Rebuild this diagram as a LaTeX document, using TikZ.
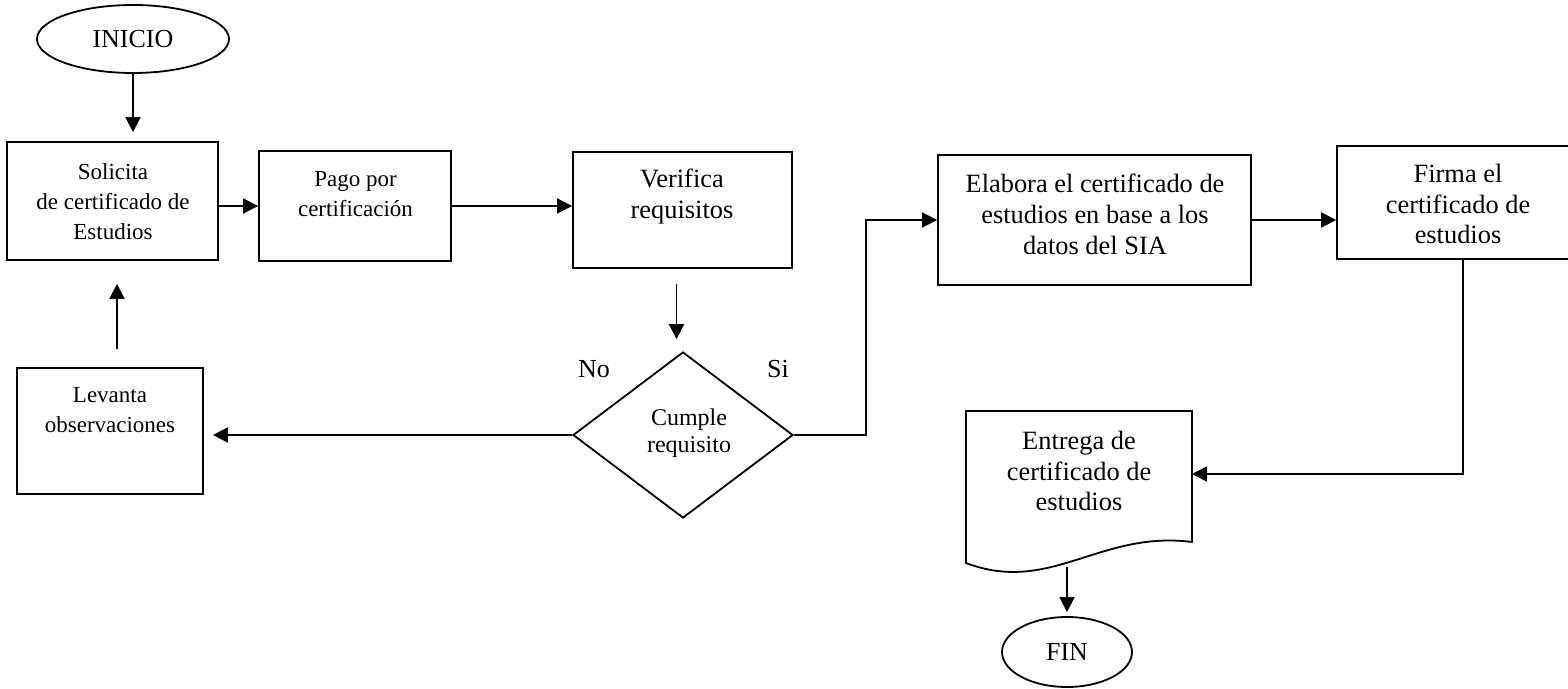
\documentclass[tikz,border=0pt]{standalone}
\usepackage{fontspec}
\setmainfont{Liberation Serif}
\usetikzlibrary{shapes.geometric,arrows.meta,calc}

\begin{document}
\begin{tikzpicture}[x=0.5pt,y=-0.5pt,
  line width=0.9pt,
  box/.style={draw, rectangle, inner sep=0pt},
  term/.style={draw, ellipse, inner sep=0pt, font=\fontsize{13}{15}\selectfont},
  decision/.style={draw, diamond, inner sep=0pt, aspect=1.33},
  tsmall/.style={inner sep=0pt, anchor=north, align=center, font=\fontsize{11.5}{15}\selectfont},
  tbig/.style={inner sep=0pt, anchor=north, align=center, font=\fontsize{13.2}{15.4}\selectfont},
  tdec/.style={inner sep=0pt, anchor=north, align=center, font=\fontsize{12}{13.3}\selectfont},
  tlabel/.style={inner sep=0pt, anchor=base, font=\fontsize{13}{15}\selectfont},
  arr/.style={-{Triangle[length=7.5pt,width=7.5pt]}, line width=0.9pt}
]
\useasboundingbox (0,0) rectangle (1568,689);

% terminals
\node[term, minimum width=96pt, minimum height=34pt] (inicio) at (133,39) {INICIO};
\node[term, minimum width=65pt, minimum height=35pt] (fin) at (1067,652) {FIN};

% process boxes
\node[box, minimum width=105.5pt, minimum height=59pt] (solicita) at (112.5,201) {};
\node[tsmall] (solicitat) at (113,163) {Solicita\\de certificado de\\Estudios};

\node[box, minimum width=96pt, minimum height=55pt] (pago) at (355,206) {};
\node[tsmall] (pagot) at (355.5,171) {Pago por\\certificación};

\node[box, minimum width=109.5pt, minimum height=58pt] (verif) at (682.5,210) {};
\node[tbig] (verift) at (682,168) {Verifica\\requisitos};

\node[box, minimum width=156.5pt, minimum height=65pt] (elabora) at (1094.5,220) {};
\node[tbig] (elaborat) at (1095,173) {Elabora el certificado de\\estudios en base a los\\datos del SIA};

\node[box, minimum width=121pt, minimum height=56.5pt] (firma) at (1458,202.5) {};
\node[tbig] (firmat) at (1458,163) {Firma el\\certificado de\\estudios};

\node[box, minimum width=93pt, minimum height=63pt] (levanta) at (110,431) {};
\node[tsmall] (levantat) at (110,387) {Levanta\\observaciones};

% decision
\node[decision, minimum width=110pt, minimum height=83pt] (cumple) at (683,435) {};
\node[tdec] (cumplet) at (689,408) {Cumple\\requisito};
\node[tlabel] (no) at (594,378) {No};
\node[tlabel] (si) at (778,378) {Si};

% document shape
\draw (966,411) -- (1192,411) -- (1192,542)
  .. controls (1100,530) and (1050,595) .. (966,563) -- cycle;
\node[tbig] (entregat) at (1079,430) {Entrega de\\certificado de\\estudios};
\coordinate (docR) at (1192,474);
\coordinate (docB) at (1067,567);

% connector end points off the node centres
\coordinate (verifout) at ($(verif.south)+(-6,0)$);
\coordinate (lvtop) at ($(levanta.north)+(7,0)$);
\coordinate (firmaout) at ($(firma.south)+(5,0)$);

% connectors
\draw[arr, shorten >=4.5pt] (inicio.south) -- (inicio.south |- solicita.north);
\draw[arr] (pago.west -| solicita.east) -- (pago.west);
\draw[arr] (pago.east) -- (pago.east -| verif.west);
\draw[arr, shorten <=7.5pt, shorten >=6pt] (verifout) -- (verifout |- cumple.north);
\draw[arr, shorten >=4.5pt] (cumple.west) -- (cumple.west -| levanta.east);
\draw[arr, shorten <=9pt, shorten >=11.5pt] (lvtop) -- (lvtop |- solicita.south);
\draw[arr] (cumple.east) -- ++(72,0) |- (elabora.west);
\draw[arr] (elabora.east) -- (elabora.east -| firma.west);
\draw[arr] (firmaout) |- (docR);
\draw[arr, shorten >=2pt] (docB) -- (fin.north);
\end{tikzpicture}
\end{document}
